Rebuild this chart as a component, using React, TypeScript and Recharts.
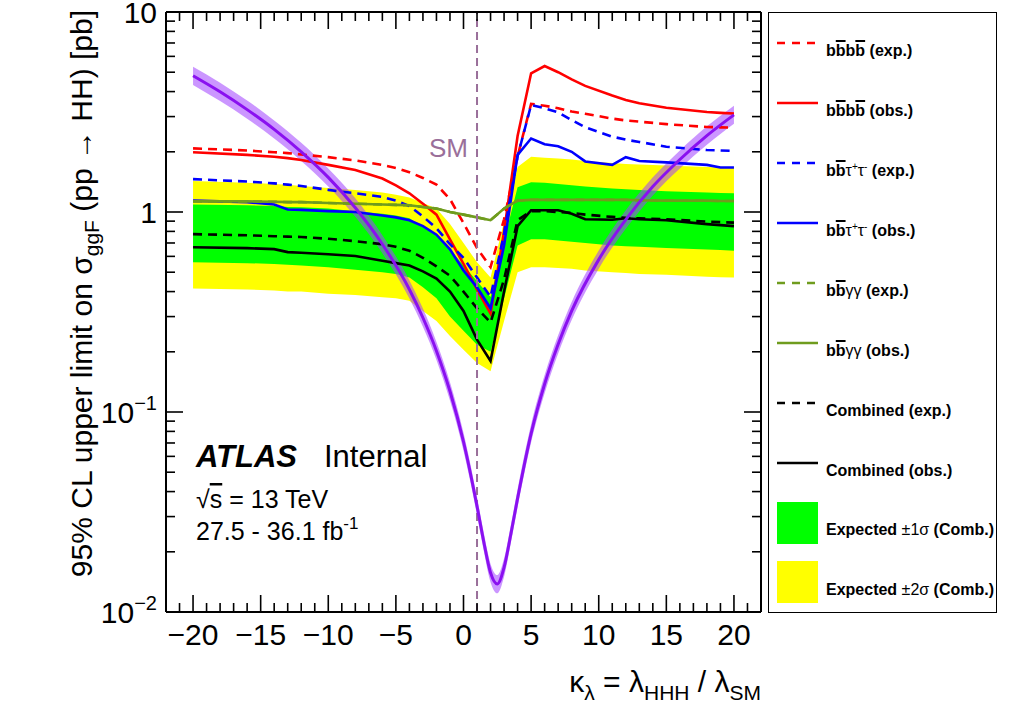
import React from "react";
import { ComposedChart, Line, Area, XAxis, YAxis, ReferenceLine } from "recharts";

// kappa_lambda points of the limit scans
const KAPPA = [-20, -16, -14, -13, -12, -10, -8, -6, -5, -4, -3, -2, -1, 0, 1, 2, 3, 4, 5, 6, 7, 8, 9, 11, 12, 13, 15, 18, 19, 20];

// 95% CL limits [pb]
const BBBB_EXP = [2.08, 2.03, 1.99, 1.97, 1.94, 1.88, 1.81, 1.72, 1.66, 1.58, 1.48, 1.37, 1.16, 0.88, 0.66, 0.53, 0.92, 1.9, 3.47, 3.4, 3.3, 3.18, 3.1, 2.93, 2.87, 2.83, 2.75, 2.66, 2.65, 2.64];
const BBBB_OBS = [1.99, 1.93, 1.89, 1.86, 1.82, 1.72, 1.62, 1.47, 1.36, 1.24, 1.1, 0.97, 0.73, 0.55, 0.41, 0.31, 0.8, 2.4, 4.94, 5.37, 5.0, 4.6, 4.27, 3.82, 3.63, 3.5, 3.32, 3.16, 3.13, 3.11];
const BBTT_EXP = [1.46, 1.42, 1.39, 1.37, 1.35, 1.29, 1.24, 1.19, 1.14, 1.07, 0.95, 0.83, 0.69, 0.59, 0.47, 0.376, 0.78, 1.9, 3.43, 3.3, 3.15, 2.88, 2.65, 2.38, 2.3, 2.24, 2.12, 2.04, 2.03, 2.02];
const BBTT_OBS = [1.14, 1.12, 1.09, 1.03, 1.025, 1.01, 1.0, 0.96, 0.94, 0.91, 0.85, 0.77, 0.65, 0.51, 0.42, 0.33, 0.68, 1.93, 2.33, 2.18, 2.13, 2.0, 1.79, 1.72, 1.88, 1.8, 1.77, 1.72, 1.67, 1.67];
const BBGG_EXP = [1.13, 1.13, 1.125, 1.12, 1.12, 1.11, 1.1, 1.09, 1.085, 1.08, 1.06, 1.04, 1.0, 0.97, 0.94, 0.91, 1.04, 1.14, 1.15, 1.15, 1.15, 1.15, 1.15, 1.15, 1.15, 1.145, 1.14, 1.14, 1.135, 1.135];
const BBGG_OBS = [1.13, 1.13, 1.125, 1.12, 1.12, 1.11, 1.1, 1.09, 1.085, 1.08, 1.06, 1.04, 1.0, 0.97, 0.94, 0.91, 1.04, 1.14, 1.15, 1.15, 1.15, 1.15, 1.15, 1.15, 1.15, 1.145, 1.14, 1.14, 1.135, 1.135];
const COMB_EXP = [0.775, 0.765, 0.757, 0.753, 0.75, 0.735, 0.715, 0.69, 0.67, 0.64, 0.59, 0.535, 0.48, 0.4, 0.33, 0.28, 0.46, 0.91, 1.01, 1.01, 1.0, 0.99, 0.97, 0.945, 0.935, 0.93, 0.92, 0.895, 0.89, 0.885];
const COMB_OBS = [0.667, 0.66, 0.652, 0.63, 0.625, 0.615, 0.603, 0.57, 0.555, 0.54, 0.505, 0.465, 0.4, 0.32, 0.23, 0.18, 0.4, 0.85, 1.02, 1.02, 1.02, 0.98, 0.92, 0.915, 0.93, 0.92, 0.91, 0.87, 0.86, 0.85];

// combined expected bands
const SIG1_LO = [0.56, 0.555, 0.55, 0.545, 0.54, 0.53, 0.515, 0.5, 0.49, 0.47, 0.42, 0.37, 0.3, 0.255, 0.217, 0.2, 0.37, 0.68, 0.73, 0.73, 0.72, 0.71, 0.7, 0.68, 0.675, 0.67, 0.66, 0.65, 0.645, 0.64];
const SIG1_HI = [1.09, 1.08, 1.07, 1.06, 1.055, 1.04, 1.01, 0.98, 0.96, 0.93, 0.84, 0.77, 0.65, 0.54, 0.45, 0.376, 0.72, 1.33, 1.41, 1.4, 1.38, 1.36, 1.34, 1.31, 1.3, 1.29, 1.27, 1.25, 1.245, 1.24];
const SIG2_LO = [0.415, 0.41, 0.405, 0.4, 0.4, 0.39, 0.385, 0.375, 0.37, 0.36, 0.32, 0.285, 0.24, 0.205, 0.176, 0.16, 0.285, 0.5, 0.53, 0.53, 0.525, 0.52, 0.51, 0.5, 0.495, 0.49, 0.485, 0.475, 0.472, 0.47];
const SIG2_HI = [1.43, 1.4, 1.38, 1.37, 1.35, 1.32, 1.29, 1.25, 1.22, 1.18, 1.11, 1.04, 0.87, 0.7, 0.56, 0.47, 0.9, 1.68, 1.89, 1.87, 1.85, 1.83, 1.8, 1.76, 1.74, 1.73, 1.71, 1.68, 1.67, 1.66];

// theory prediction sigma_ggF(pp -> HH) and its band
const THEORY_K = [-20, -18, -16, -14, -12, -10, -8, -6, -4, -3, -2, -1, 0, 1, 1.5, 2, 2.5, 3, 3.5, 4, 5, 6, 7, 8, 10, 12, 14, 16, 18, 20];
const THEORY = [4.8, 3.99, 3.25, 2.59, 2.0, 1.49, 1.05, 0.69, 0.41, 0.296, 0.202, 0.127, 0.071, 0.0338, 0.0224, 0.0157, 0.0138, 0.0167, 0.0245, 0.037, 0.078, 0.138, 0.218, 0.32, 0.578, 0.915, 1.34, 1.83, 2.41, 3.06];
const THEORY_LO = [4.32, 3.59, 2.93, 2.33, 1.8, 1.34, 0.946, 0.622, 0.369, 0.267, 0.182, 0.114, 0.064, 0.0305, 0.0202, 0.0141, 0.0124, 0.015, 0.0221, 0.0333, 0.0703, 0.124, 0.196, 0.288, 0.521, 0.824, 1.21, 1.65, 2.17, 2.76];
const THEORY_HI = [5.33, 4.43, 3.61, 2.87, 2.22, 1.65, 1.17, 0.766, 0.455, 0.329, 0.224, 0.141, 0.0788, 0.0375, 0.0249, 0.0174, 0.0153, 0.0185, 0.0272, 0.0411, 0.0866, 0.153, 0.242, 0.355, 0.642, 1.02, 1.49, 2.03, 2.68, 3.4];

// axis ticks
const X_MAJOR = [-20, -15, -10, -5, 0, 5, 10, 15, 20];
const X_TICKS = Array.from({ length: 43 }, (_, i) => i - 21);
const Y_MAJOR = [0.01, 0.1, 1, 10];
const Y_MINOR = [0.02, 0.03, 0.04, 0.05, 0.06, 0.07, 0.08, 0.09, 0.2, 0.3, 0.4, 0.5, 0.6, 0.7, 0.8, 0.9, 2, 3, 4, 5, 6, 7, 8, 9];
const Y_LABELS: Record<string, [string, string]> = { "0.01": ["10", "\u22122"], "0.1": ["10", "\u22121"], "1": ["1", ""], "10": ["10", ""] };
const Y_TICKS = [...Y_MAJOR, ...Y_MINOR].sort((a, b) => a - b);

const FONT = "'Liberation Sans', Arial, Helvetica, sans-serif";
const RED = "#ff0000";
const BLUE = "#0000ff";
const OLIVE = "#6f9c1e";
const SM_COL = "#9a6f9a";
const MAJ = 17;
const MIN = 9;
// frame of the plotting area
const PLOT_W = 595;
const PLOT_H = 600;

const limitRows = KAPPA.map((k, i) => ({
  k,
  bbbbExp: BBBB_EXP[i], bbbbObs: BBBB_OBS[i],
  bbttExp: BBTT_EXP[i], bbttObs: BBTT_OBS[i],
  bbggExp: BBGG_EXP[i], bbggObs: BBGG_OBS[i],
  combExp: COMB_EXP[i], combObs: COMB_OBS[i],
  sig1: [SIG1_LO[i], SIG1_HI[i]],
  sig2: [SIG2_LO[i], SIG2_HI[i]],
}));

const theoryRows = THEORY_K.map((k, i) => ({ k, mid: THEORY[i], band: [THEORY_LO[i], THEORY_HI[i]] }));

// bottom tick also draws the mirrored tick on the top frame
const BottomTick = (p: any) => {
  const v = p.payload.value;
  const len = X_MAJOR.includes(v) ? MAJ : MIN;
  const top = p.y - PLOT_H;
  return (
    <g>
      <line x1={p.x} x2={p.x} y1={p.y} y2={p.y - len} stroke="#000" strokeWidth={1.6} />
      <line x1={p.x} x2={p.x} y1={top} y2={top + len} stroke="#000" strokeWidth={1.6} />
      {len === MAJ && (
        <text x={p.x} y={p.y + 33} textAnchor="middle" fontSize={30} fontFamily={FONT} fill="#000">
          {v < 0 ? "\u2212" + Math.abs(v) : String(v)}
        </text>
      )}
    </g>
  );
};

// left tick also draws the mirrored tick on the right frame
const LeftTick = (p: any) => {
  const lab = Y_LABELS[String(p.payload.value)];
  const len = lab ? MAJ : MIN;
  const right = p.x + PLOT_W;
  return (
    <g>
      <line x1={p.x} x2={p.x + len} y1={p.y} y2={p.y} stroke="#000" strokeWidth={1.6} />
      <line x1={right} x2={right - len} y1={p.y} y2={p.y} stroke="#000" strokeWidth={1.6} />
      {lab && (
        <text x={p.x - 9} y={p.y + 11} textAnchor="end" fontSize={30} fontFamily={FONT} fill="#000">
          {lab[0]}
          {lab[1] && <tspan fontSize={20} dy={-13}>{lab[1]}</tspan>}
        </text>
      )}
    </g>
  );
};

const SmLabel = (p: any) => {
  const vb = p.viewBox || { x: 0, y: 0 };
  return (
    <text x={vb.x - 9} y={vb.y + 145} textAnchor="end" fontSize={26} fontFamily={FONT} fill={SM_COL}>
      SM
    </text>
  );
};

const Ob = ({ children }: { children: React.ReactNode }) => (
  <span style={{ textDecoration: "overline", textDecorationThickness: "2px" }}>{children}</span>
);
const Gr = ({ children }: { children: React.ReactNode }) => <span style={{ fontWeight: 400 }}>{children}</span>;
const Sup = ({ children }: { children: React.ReactNode }) => (
  <span style={{ fontSize: 10, fontWeight: 400, position: "relative", top: -6 }}>{children}</span>
);

const LEGEND = [
  { label: <>b<Ob>b</Ob>b<Ob>b</Ob> (exp.)</>, color: RED, dash: true },
  { label: <>b<Ob>b</Ob>b<Ob>b</Ob> (obs.)</>, color: RED, dash: false },
  { label: <>b<Ob>b</Ob><Gr>τ</Gr><Sup>+</Sup><Gr>τ</Gr><Sup>-</Sup> (exp.)</>, color: BLUE, dash: true },
  { label: <>b<Ob>b</Ob><Gr>τ</Gr><Sup>+</Sup><Gr>τ</Gr><Sup>-</Sup> (obs.)</>, color: BLUE, dash: false },
  { label: <>b<Ob>b</Ob><Gr>γγ</Gr> (exp.)</>, color: OLIVE, dash: true },
  { label: <>b<Ob>b</Ob><Gr>γγ</Gr> (obs.)</>, color: OLIVE, dash: false },
  { label: <>Combined (exp.)</>, color: "#000", dash: true },
  { label: <>Combined (obs.)</>, color: "#000", dash: false },
];
const LEGEND_BOXES = [
  { label: <>Expected <Gr>±1σ</Gr> (Comb.)</>, color: "#00ff00" },
  { label: <>Expected <Gr>±2σ</Gr> (Comb.)</>, color: "#ffff00" },
];

const textStyle = (baseline: number): React.CSSProperties => ({
  position: "absolute", left: 826, top: baseline - 13.5, fontFamily: FONT, fontWeight: 700,
  fontSize: 16, lineHeight: "16px", whiteSpace: "nowrap", color: "#000",
});

function Legend() {
  return (
    <>
      <div style={{ position: "absolute", left: 768, top: 12, width: 229, height: 601, border: "1.5px solid #000", boxSizing: "border-box" }} />
      {LEGEND.map((e, i) => {
        const ly = 42.7 + 60 * i;
        return (
          <React.Fragment key={i}>
            <svg style={{ position: "absolute", left: 777, top: ly - 3 }} width={41} height={6}>
              <line x1={0} x2={41} y1={3} y2={3} stroke={e.color} strokeWidth={2.6} strokeDasharray={e.dash ? "8 7" : undefined} />
            </svg>
            <div style={textStyle(ly + 13.5)}>{e.label}</div>
          </React.Fragment>
        );
      })}
      {LEGEND_BOXES.map((e, i) => (
        <React.Fragment key={"b" + i}>
          <div style={{ position: "absolute", left: 777, top: 502 + 59 * i, width: 41, height: 42, background: e.color }} />
          <div style={textStyle(535 + 60 * i)}>{e.label}</div>
        </React.Fragment>
      ))}
    </>
  );
}

const lineProps = { xAxisId: "b", yAxisId: "l", dot: false, activeDot: false, isAnimationActive: false, type: "linear" as const, strokeWidth: 2.6 };

export default function App() {
  return (
    <div style={{ position: "relative", width: 1018, height: 707, background: "#fff" }}>
      <style>{"body{margin:0}"}</style>
      <ComposedChart width={1018} height={707} data={limitRows} margin={{ top: 12, right: 257, bottom: 0, left: 0 }}>
        <XAxis xAxisId="b" dataKey="k" type="number" domain={[-22, 22]} allowDataOverflow ticks={X_TICKS} interval={0}
          tick={BottomTick} tickLine={false} tickSize={0} tickMargin={0} height={95}
          axisLine={{ stroke: "#000", strokeWidth: 2 }} />
        <YAxis yAxisId="l" type="number" scale="log" domain={[0.01, 10]} allowDataOverflow ticks={Y_TICKS} interval={0}
          tick={LeftTick} tickLine={false} tickSize={0} tickMargin={0} width={166}
          axisLine={{ stroke: "#000", strokeWidth: 2 }} />

        <Area xAxisId="b" yAxisId="l" dataKey="sig2" type="linear" stroke="none" fill="#ffff00" fillOpacity={1} isAnimationActive={false} activeDot={false} />
        <Area xAxisId="b" yAxisId="l" dataKey="sig1" type="linear" stroke="none" fill="#00ff00" fillOpacity={1} isAnimationActive={false} activeDot={false} />

        <Line {...lineProps} dataKey="bbbbExp" stroke={RED} strokeDasharray="9 6" />
        <Line {...lineProps} dataKey="bbbbObs" stroke={RED} />
        <Line {...lineProps} dataKey="bbttExp" stroke={BLUE} strokeDasharray="9 6" />
        <Line {...lineProps} dataKey="bbttObs" stroke={BLUE} />
        <Line {...lineProps} dataKey="bbggExp" stroke={OLIVE} strokeDasharray="9 6" />
        <Line {...lineProps} dataKey="bbggObs" stroke={OLIVE} />
        <Line {...lineProps} dataKey="combExp" stroke="#000" strokeDasharray="9 6" />
        <Line {...lineProps} dataKey="combObs" stroke="#000" />

        <ReferenceLine xAxisId="b" yAxisId="l" x={1} stroke={SM_COL} strokeWidth={2} strokeDasharray="8 5" label={SmLabel} />

        <Area xAxisId="b" yAxisId="l" data={theoryRows} dataKey="band" type="monotone" stroke="none" fill="#a040ff" fillOpacity={0.55} isAnimationActive={false} activeDot={false} />
        <Line xAxisId="b" yAxisId="l" data={theoryRows} dataKey="mid" type="monotone" stroke="#8a10f0" strokeWidth={3} dot={false} activeDot={false} isAnimationActive={false} />

        {/* top and right sides of the frame */}
        <ReferenceLine xAxisId="b" yAxisId="l" y={10} stroke="#000" strokeWidth={2} />
        <ReferenceLine xAxisId="b" yAxisId="l" x={22} stroke="#000" strokeWidth={2} />
      </ComposedChart>

      <svg style={{ position: "absolute", left: 0, top: 0, pointerEvents: "none" }} width={1018} height={707} fontFamily={FONT}>
        <text transform="translate(92, 10) rotate(-90)" textAnchor="end" fontSize={30} fill="#000">
          95% CL upper limit on σ<tspan fontSize={21} dy={7}>ggF</tspan>
          <tspan dy={-7}> (pp → HH) [pb]</tspan>
        </text>
        <text x={761} y={692} textAnchor="end" fontSize={30} fill="#000">
          κ<tspan fontSize={21} dy={8}>λ</tspan>
          <tspan dy={-8}> = λ</tspan>
          <tspan fontSize={21} dy={8}>HHH</tspan>
          <tspan dy={-8}> / λ</tspan>
          <tspan fontSize={21} dy={8}>SM</tspan>
        </text>
        <text x={196} y={467} fontSize={31} fontWeight="bold" fontStyle="italic" fill="#000">ATLAS</text>
        <text x={324} y={467} fontSize={31} fill="#000">Internal</text>
        <text x={196} y={508} fontSize={25} fill="#000">
          √<tspan style={{ textDecoration: "overline" }}>s</tspan> = 13 TeV
        </text>
        <text x={196} y={540} fontSize={25} fill="#000">
          27.5 - 36.1 fb<tspan fontSize={17} dy={-11}>-1</tspan>
        </text>
      </svg>
      <Legend />
    </div>
  );
}
